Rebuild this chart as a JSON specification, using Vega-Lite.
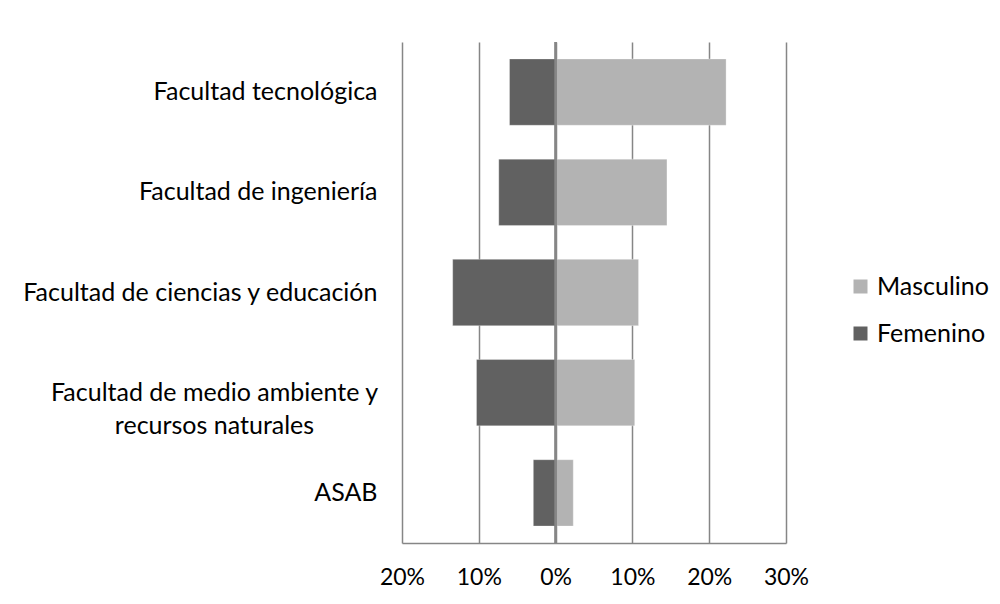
{
  "$schema": "https://vega.github.io/schema/vega-lite/v6.json",
  "width": 384,
  "height": 501,
  "autosize": "none",
  "padding": {"left": 402, "top": 42, "right": 214, "bottom": 61},
  "background": "white",
  "config": {
    "font": "Lato",
    "view": {"stroke": null},
    "axis": {"labelFont": "Lato", "labelColor": "#000000"}
  },
  "data": {
    "values": [
      {"facultad": "Facultad tecnológica", "sexo": "Femenino", "valor": -0.060},
      {"facultad": "Facultad tecnológica", "sexo": "Masculino", "valor": 0.222},
      {"facultad": "Facultad de ingeniería", "sexo": "Femenino", "valor": -0.074},
      {"facultad": "Facultad de ingeniería", "sexo": "Masculino", "valor": 0.145},
      {"facultad": "Facultad de ciencias y educación", "sexo": "Femenino", "valor": -0.134},
      {"facultad": "Facultad de ciencias y educación", "sexo": "Masculino", "valor": 0.108},
      {"facultad": "Facultad de medio ambiente y recursos naturales", "sexo": "Femenino", "valor": -0.103},
      {"facultad": "Facultad de medio ambiente y recursos naturales", "sexo": "Masculino", "valor": 0.103},
      {"facultad": "ASAB", "sexo": "Femenino", "valor": -0.029},
      {"facultad": "ASAB", "sexo": "Masculino", "valor": 0.023}
    ]
  },
  "layer": [
    {
      "mark": {"type": "bar", "stroke": "#ffffff", "strokeWidth": 0.5, "strokeOpacity": 0.6},
      "encoding": {
        "y": {
          "field": "facultad",
          "type": "nominal",
          "sort": ["Facultad tecnológica", "Facultad de ingeniería", "Facultad de ciencias y educación", "Facultad de medio ambiente y recursos naturales", "ASAB"],
          "scale": {"paddingInner": 0.338, "paddingOuter": 0.169},
          "axis": {
            "title": null,
            "domain": false,
            "ticks": false,
            "tickSize": 0,
            "labelFontSize": 25,
            "labelLimit": 400,
            "labelLineHeight": 33,
            "labelBaseline": "middle",
            "labelExpr": "datum.value == 'Facultad de medio ambiente y recursos naturales' ? ['Facultad de medio ambiente y', 'recursos naturales'] : datum.value",
            "labelAlign": {"condition": {"test": "datum.value == 'Facultad de medio ambiente y recursos naturales'", "value": "center"}, "value": "right"},
            "labelPadding": {"condition": {"test": "datum.value == 'Facultad de medio ambiente y recursos naturales'", "value": 188}, "value": 25}
          }
        },
        "x": {
          "field": "valor",
          "type": "quantitative",
          "stack": null,
          "scale": {"domain": [-0.2, 0.3], "nice": false, "zero": false},
          "axis": {
            "title": null,
            "values": [-0.2, -0.1, 0, 0.1, 0.2, 0.3],
            "labelExpr": "format(abs(datum.value), '.0%')",
            "labelFontSize": 23,
            "ticks": false,
            "tickSize": 0,
            "labelPadding": 23,
            "domainColor": "#868686",
            "domainWidth": 1.5,
            "grid": true,
            "gridColor": "#868686",
            "gridWidth": 1.5,
            "labelFlush": false
          }
        },
        "color": {
          "field": "sexo",
          "type": "nominal",
          "scale": {"domain": ["Masculino", "Femenino"], "range": ["#b3b3b3", "#616161"]},
          "legend": {
            "title": null,
            "orient": "none",
            "legendX": 446,
            "legendY": 232,
            "symbolType": "square",
            "symbolSize": 196,
            "symbolStrokeWidth": 0,
            "labelFontSize": 25,
            "labelOffset": 4,
            "rowPadding": 21,
            "labelColor": "#000000"
          }
        }
      }
    },
    {
      "mark": {"type": "rule", "color": "#868686", "strokeWidth": 1.5},
      "encoding": {"x": {"datum": 0}}
    }
  ]
}
